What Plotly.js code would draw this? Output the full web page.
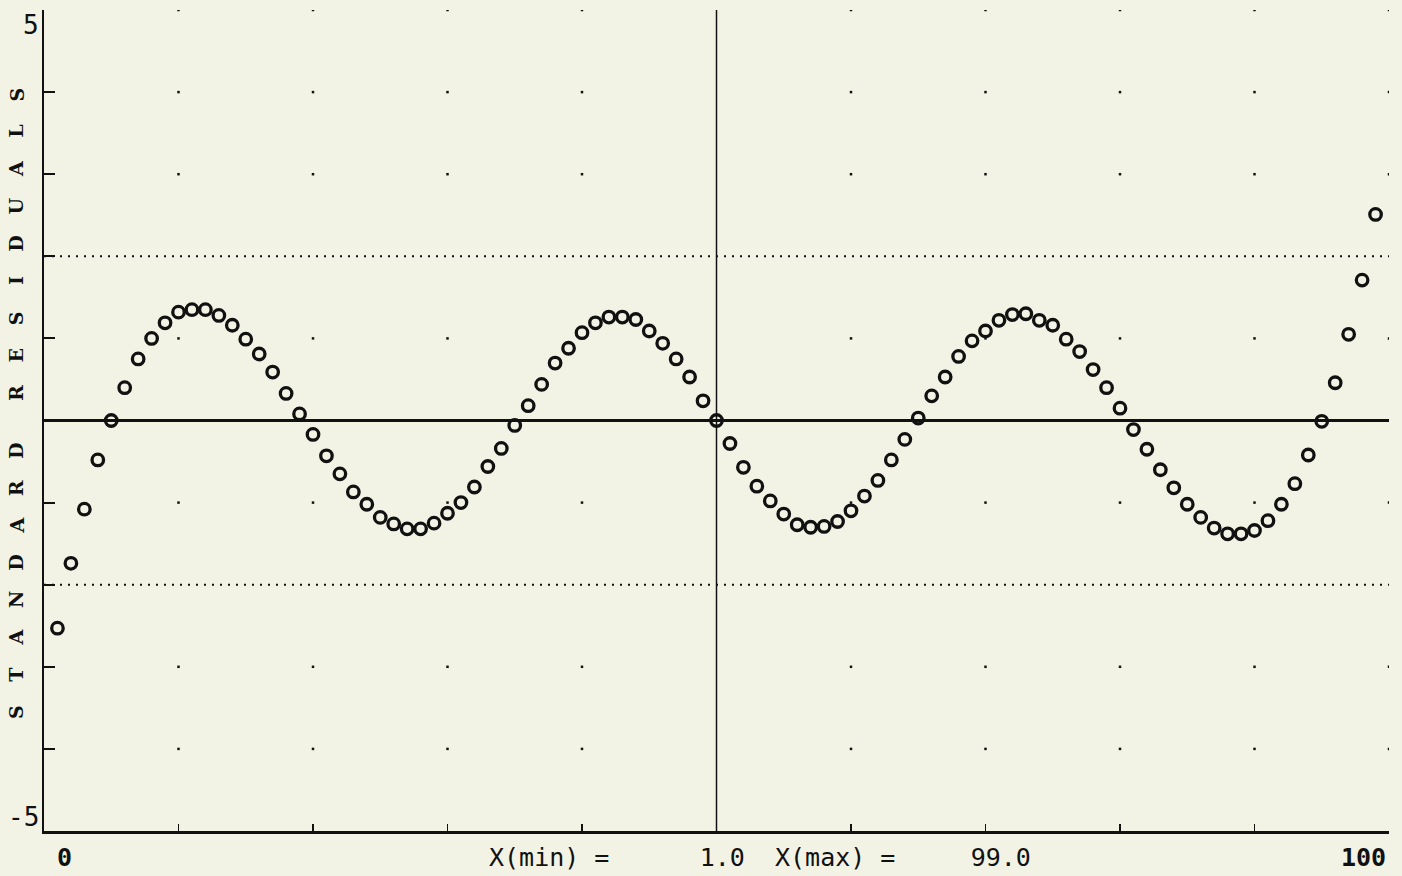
<!DOCTYPE html>
<html>
<head>
<meta charset="utf-8">
<script src="https://cdn.plot.ly/plotly-3.0.1.min.js"></script>
<style>
  html, body { margin: 0; padding: 0; background: rgb(243,243,229); }
  #chart { width: 1402px; height: 876px; }
</style>
</head>
<body>
<div id="chart"></div>
<script>
// ---- Data ----
const xValues = [];
for (let i = 1; i <= 99; i++) xValues.push(i);

const residuals = [
  -2.53, -1.74, -1.08, -0.48, 0.00, 0.40, 0.75, 1.00, 1.19, 1.32,
   1.35,  1.35,  1.28,  1.16, 0.99, 0.81, 0.59, 0.33, 0.08, -0.17,
  -0.43, -0.65, -0.87, -1.02, -1.18, -1.26, -1.32, -1.32, -1.25, -1.13,
  -1.00, -0.81, -0.56, -0.34, -0.06, 0.18, 0.44, 0.70, 0.88, 1.07,
   1.19,  1.26,  1.26,  1.23, 1.09, 0.94, 0.75, 0.53, 0.24, 0.00,
  -0.28, -0.57, -0.80, -0.98, -1.14, -1.27, -1.30, -1.29, -1.23, -1.10,
  -0.92, -0.73, -0.48, -0.23, 0.03, 0.30, 0.53, 0.78, 0.97, 1.09,
   1.22,  1.29,  1.30,  1.22, 1.16, 0.99, 0.84, 0.62, 0.40, 0.15,
  -0.11, -0.35, -0.60, -0.82, -1.02, -1.18, -1.31, -1.38, -1.38, -1.34,
  -1.22, -1.02, -0.77, -0.42, -0.01, 0.46, 1.05, 1.71, 2.51
];

const xTickVals = [10, 20, 30, 40, 50, 60, 70, 80, 90, 100];
const yTickVals = [-5, -4, -3, -2, -1, 0, 1, 2, 3, 4, 5];
const gridDotY = [5, 4, 3, 1, -1, -3, -4];
const limitLines = [2, -2];
const centerX = 50;
const xMinText = "X(min) =";
const xMinVal = "1.0";
const xMaxText = "X(max) =";
const xMaxVal = "99.0";
const yTitleWords = ["STANDARD", "RESIDUALS"];

// ---- Build derived items ----
const NB = "\u00A0";
const gx = [], gy = [];
xTickVals.forEach(x => {
  if (x === centerX) return;
  gridDotY.forEach(y => { gx.push(x); gy.push(y); });
});

const bottomText = xMinText + NB.repeat(6) + xMinVal + NB + NB + xMaxText + NB.repeat(5) + xMaxVal;

const ink = "#111";
const monoFont = "DejaVu Sans Mono, Liberation Mono, monospace";

const traces = [
  {
    x: gx, y: gy, type: "scatter", mode: "markers",
    marker: { symbol: "square", size: 2.5, color: ink },
    hoverinfo: "skip", showlegend: false
  },
  {
    x: xValues, y: residuals, type: "scatter", mode: "markers",
    marker: { symbol: "circle-open", size: 11.5, color: ink, line: { width: 3.3, color: ink } },
    showlegend: false
  }
];

const shapes = limitLines.map(v => ({
  type: "line", xref: "x", yref: "y", x0: 0, x1: 100, y0: v, y1: v,
  line: { color: ink, width: 2, dash: "2px,6px" }, layer: "below"
}));
shapes.push({
  type: "line", xref: "x", yref: "paper", x0: centerX, x1: centerX, y0: 0, y1: 1,
  line: { color: ink, width: 1.5 }, layer: "below"
});

const annotations = [
  { text: "5", xref: "paper", yref: "y", x: 0, y: 5, xanchor: "right", yanchor: "top",
    xshift: -3, yshift: 2, showarrow: false, font: { family: monoFont, size: 26, color: ink } },
  { text: "-5", xref: "paper", yref: "y", x: 0, y: -5, xanchor: "right", yanchor: "bottom",
    xshift: -3, yshift: -3, showarrow: false, font: { family: monoFont, size: 26, color: ink } },
  { text: "<b>0</b>", xref: "x", yref: "paper", x: 0, y: 0, xanchor: "center", yanchor: "top",
    xshift: 20, yshift: -10, showarrow: false, font: { family: monoFont, size: 25, color: ink } },
  { text: "<b>100</b>", xref: "x", yref: "paper", x: 100, y: 0, xanchor: "right", yanchor: "top",
    xshift: -1, yshift: -10, showarrow: false, font: { family: monoFont, size: 25, color: ink } },
  { text: bottomText, xref: "paper", yref: "paper", x: (487 - 44) / 1345, y: 0, xanchor: "left", yanchor: "top",
    yshift: -10, showarrow: false, font: { family: monoFont, size: 25, color: ink } }
];

// vertical axis title, one rotated letter at a time (read bottom to top)
const plotBottomPx = 831, firstLetterPx = 712, letterPitch = 37.3, wordGap = 58;
let pos = firstLetterPx;
yTitleWords.forEach((word, wi) => {
  if (wi > 0) pos -= wordGap - letterPitch;
  word.split("").forEach(ch => {
    annotations.push({
      text: "<b>" + ch + "</b>", xref: "paper", yref: "paper", x: 0, y: 0,
      xanchor: "center", yanchor: "middle", xshift: -28, yshift: plotBottomPx - pos,
      textangle: -90, showarrow: false,
      font: { family: "DejaVu Serif, Liberation Serif, serif", size: 19, color: ink }
    });
    pos -= letterPitch;
  });
});

const layout = {
  width: 1402, height: 876,
  margin: { l: 44, r: 13, t: 10, b: 45, pad: 0 },
  paper_bgcolor: "rgb(243,243,229)",
  plot_bgcolor: "rgb(243,243,229)",
  showlegend: false,
  xaxis: {
    range: [0, 100], showgrid: false, zeroline: false,
    showline: true, linecolor: ink, linewidth: 3,
    tickmode: "array", tickvals: xTickVals, ticks: "inside", ticklen: 7, tickwidth: 1.5, tickcolor: ink,
    showticklabels: false, fixedrange: true
  },
  yaxis: {
    range: [-5, 5], showgrid: false,
    zeroline: true, zerolinecolor: ink, zerolinewidth: 2.5,
    showline: true, linecolor: ink, linewidth: 2,
    tickmode: "array", tickvals: yTickVals, ticks: "inside", ticklen: 11, tickwidth: 2, tickcolor: ink,
    showticklabels: false, fixedrange: true
  },
  shapes: shapes,
  annotations: annotations
};

Plotly.newPlot("chart", traces, layout, { staticPlot: true, displayModeBar: false });
</script>
</body>
</html>
